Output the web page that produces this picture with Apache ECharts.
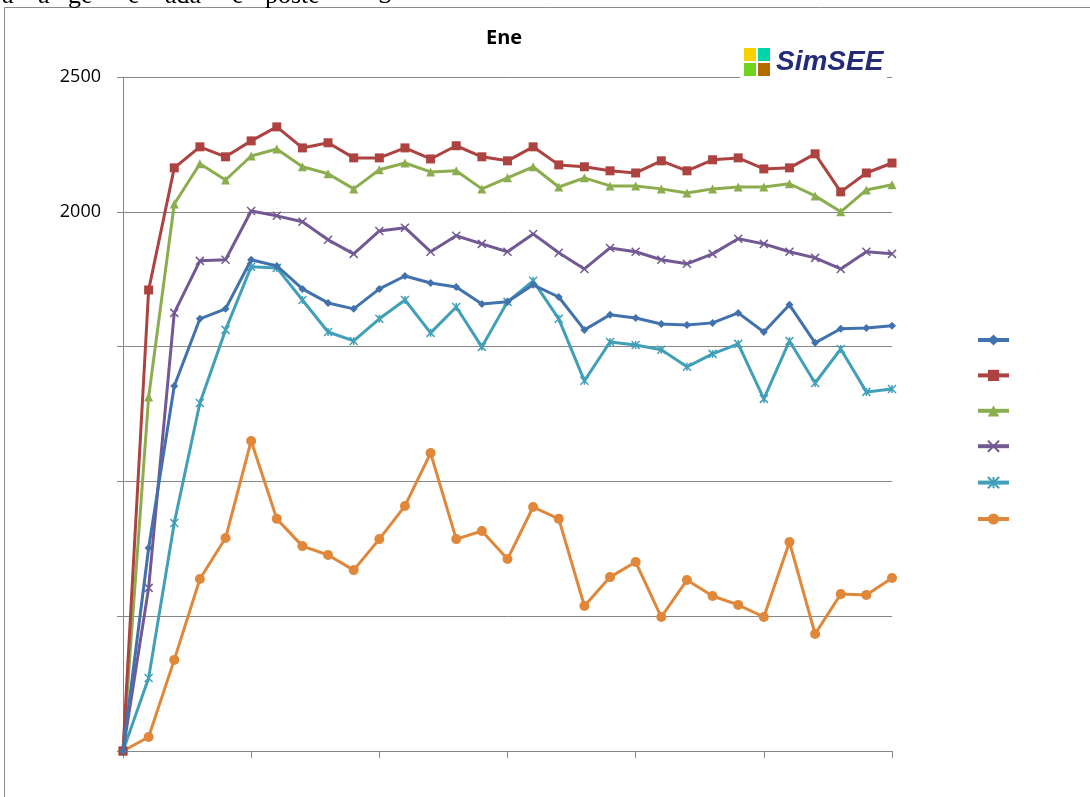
<!DOCTYPE html>
<html>
<head>
<meta charset="utf-8">
<script src="https://cdn.jsdelivr.net/npm/echarts@6/dist/echarts.min.js"></script>
<style>
html,body{margin:0;padding:0;background:#fff;}
#chart{width:1090px;height:797px;}
</style>
</head>
<body>
<div id="chart"></div>
<script>
// x positions (steps 0..30)
const steps = Array.from({length: 31}, (_, i) => i);
const yTicks = [0, 500, 1000, 1500, 2000, 2500];
const shownYLabels = [2000, 2500];
const seriesNames = ['Serie 1', 'Serie 2', 'Serie 3', 'Serie 4', 'Serie 5', 'Serie 6'];
const titleText = 'Ene';
const logoText = 'SimSEE';
const topFragments = ['a', 'a', 'ge', 'e', 'ada', 'e', 'poste', 'S'];

const blueVals = [0, 753, 1354, 1603, 1640, 1822, 1799, 1714, 1662, 1640, 1714, 1762, 1736, 1721, 1658, 1666, 1729, 1684, 1562, 1618, 1606, 1584, 1580, 1588, 1625, 1554, 1655, 1514, 1566, 1569, 1577];
const redVals = [0, 1710, 2163, 2241, 2204, 2263, 2315, 2237, 2256, 2200, 2200, 2237, 2196, 2245, 2204, 2189, 2241, 2174, 2167, 2152, 2144, 2189, 2152, 2193, 2200, 2159, 2163, 2215, 2074, 2144, 2181];
const greenVals = [0, 1313, 2029, 2178, 2118, 2207, 2233, 2167, 2141, 2085, 2156, 2181, 2148, 2152, 2085, 2126, 2167, 2092, 2126, 2096, 2096, 2085, 2070, 2085, 2092, 2092, 2104, 2059, 2000, 2081, 2100];
const purpleVals = [0, 605, 1625, 1818, 1822, 2003, 1985, 1963, 1896, 1844, 1929, 1941, 1852, 1911, 1881, 1852, 1918, 1848, 1788, 1866, 1852, 1822, 1807, 1844, 1900, 1881, 1852, 1829, 1788, 1852, 1844];
const cyanVals = [0, 271, 846, 1291, 1562, 1796, 1792, 1673, 1554, 1521, 1603, 1673, 1551, 1647, 1499, 1666, 1744, 1603, 1373, 1517, 1506, 1488, 1425, 1473, 1510, 1306, 1521, 1365, 1491, 1332, 1343];
const orangeVals = [0, 52, 338, 638, 790, 1150, 861, 760, 727, 671, 786, 909, 1105, 786, 816, 712, 905, 861, 538, 645, 701, 497, 634, 575, 542, 497, 775, 434, 582, 579, 642];

const colors = ['#4272ad', '#ad4340', '#8cad4e', '#735994', '#41a0b8', '#e0873a'];
const symbols = [
  'diamond', 'rect', 'triangle',
  'path://M0,0 L10,10 M10,0 L0,10',
  'path://M0,0 L10,10 M10,0 L0,10 M5,0 L5,10',
  'circle'
];
const symbolSizes = [8, 9, 9, 8, 8, 10];
const allVals = [blueVals, redVals, greenVals, purpleVals, cyanVals, orangeVals];

const chart = echarts.init(document.getElementById('chart'));

const series = allVals.map((vals, i) => ({
  name: seriesNames[i],
  type: 'line',
  data: steps.map((s, k) => [s, vals[k]]),
  symbol: symbols[i],
  symbolSize: symbolSizes[i],
  showAllSymbol: true,
  lineStyle: {color: colors[i], width: 3},
  itemStyle: {color: colors[i], borderColor: colors[i], borderWidth: (i === 3 || i === 4) ? 1.5 : 0},
  z: 10 - i,
  animation: false
}));

const fragX = [2, 38, 68, 128, 165, 232, 265, 378];
const fragGraphics = topFragments.map((t, i) => ({
  type: 'text', left: fragX[i], top: -17,
  style: {text: t, font: '26px "Liberation Serif"', fill: '#000'}, z: 100
}));

chart.setOption({
  animation: false,
  backgroundColor: '#ffffff',
  grid: {left: 123, right: 198, top: 77, bottom: 46},
  xAxis: {
    type: 'value', min: 0, max: 30, interval: 5,
    axisLine: {show: true, lineStyle: {color: '#868686', width: 1}},
    axisTick: {show: true, length: 7, lineStyle: {color: '#868686'}},
    axisLabel: {show: false},
    splitLine: {show: false}
  },
  yAxis: {
    type: 'value', min: 0, max: 2500, interval: 500,
    axisLine: {show: true, lineStyle: {color: '#868686', width: 1}},
    axisTick: {show: true, length: 6, lineStyle: {color: '#868686'}},
    axisLabel: {
      show: true, margin: 22, color: '#000', fontSize: 18,
      fontFamily: 'Open Sans',
      formatter: v => shownYLabels.includes(v) ? String(v) : ''
    },
    splitLine: {show: true, lineStyle: {color: '#868686', width: 1}}
  },
  legend: {
    orient: 'vertical', left: 971, top: 328,
    itemWidth: 31, itemHeight: 14, itemGap: 22.8,
    lineStyle: {width: 4},
    formatter: () => '',
    textStyle: {fontSize: 1},
    data: seriesNames
  },
  graphic: [
    {type: 'rect', shape: {x: 4.5, y: 7.5, width: 1200, height: 900}, style: {fill: 'none', stroke: '#8a8a8a', lineWidth: 1}, z: 0, silent: true},
    ...fragGraphics,
    {type: 'text', left: 486, top: 28, style: {text: titleText, font: 'bold 20px "Open Sans"', fill: '#000'}, z: 100},
    {type: 'rect', shape: {x: 740, y: 44, width: 147, height: 38}, style: {fill: '#fff'}, z: 50},
    {type: 'rect', shape: {x: 744, y: 48, width: 12, height: 13}, style: {fill: '#f7d200'}, z: 60},
    {type: 'rect', shape: {x: 758, y: 48, width: 12, height: 13}, style: {fill: '#00d6a8'}, z: 60},
    {type: 'rect', shape: {x: 744, y: 63, width: 12, height: 13}, style: {fill: '#6fd41e'}, z: 60},
    {type: 'rect', shape: {x: 758, y: 63, width: 12, height: 13}, style: {fill: '#b36b00'}, z: 60},
    {type: 'text', left: 776, top: 48, style: {text: logoText, font: 'italic bold 28px "Liberation Sans"', fill: '#232a7a'}, z: 60}
  ],
  series: series
});
</script>
</body>
</html>
